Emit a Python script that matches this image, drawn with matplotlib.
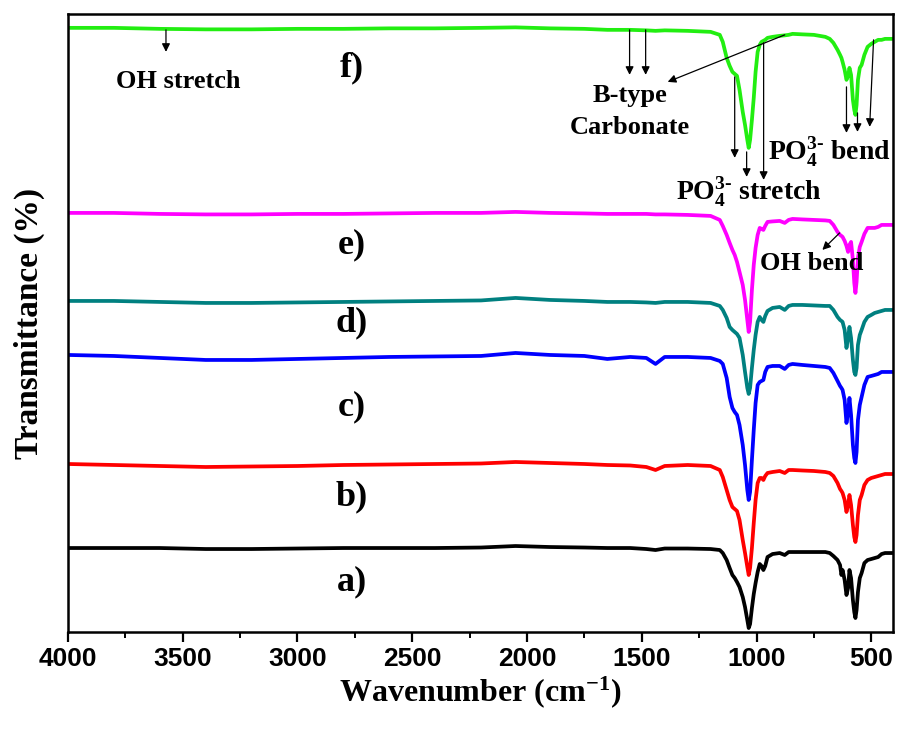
import numpy as np
import matplotlib
matplotlib.use("Agg")
import matplotlib.pyplot as plt

plt.rcParams["mathtext.fontset"] = "custom"
plt.rcParams["mathtext.rm"] = "Liberation Serif:bold"
plt.rcParams["mathtext.it"] = "Liberation Serif:bold"
plt.rcParams["mathtext.bf"] = "Liberation Serif:bold"
plt.rcParams["mathtext.default"] = "rm"

# FTIR spectra (wavenumber in cm^-1, stacked transmittance in arbitrary units)
wavenumber = [4000, 3800, 3600, 3400, 3200, 3000, 2800, 2600, 2400, 2200,
              2050, 1900, 1750, 1650, 1550, 1480, 1440, 1400, 1300, 1200,
              1160, 1147, 1130, 1117, 1105, 1095, 1085, 1074, 1060, 1050,
              1040, 1034, 1028, 1020, 1012, 1004, 995, 986, 978, 970,
              962, 952, 930, 899, 877, 860, 843, 800, 750, 700,
              681, 665,
              647, 636, 630, 625, 616, 608, 601, 595, 588, 580,
              574, 569, 564, 558, 550, 542, 530, 516, 500, 485,
              470, 455, 440, 420, 405]

trace_a = [84, 84, 84, 83, 83, 83.5, 84, 84, 84, 84.5,
           86, 85, 84.5, 84, 84, 83, 82, 83.5, 83.5, 83,
           82, 79, 72, 64, 57, 54, 50, 45, 35, 25,
           12, 4, 8, 24, 38, 49, 60, 68, 66, 62,
           66, 75, 78, 79, 77, 80, 80, 80, 80, 80,
           79, 76,
           72, 67, 57, 62, 52, 37, 44, 62, 54, 32,
           20, 14, 22, 40, 54, 59, 69, 72, 73, 74,
           75, 78, 79, 79, 79]

trace_b = [168, 167, 166, 165, 165.5, 166, 167, 167.5, 168, 168.5,
           170, 169, 168, 167, 166.5, 165, 162, 166, 167, 166,
           162, 155, 142, 132, 125, 123, 121, 112, 92, 79,
           65, 57, 64, 84, 109, 132, 149, 154, 154, 152,
           156, 159, 160, 161, 159, 162, 162, 161.5, 161, 160,
           159, 156,
           149, 143, 141, 139, 132, 120, 127, 137, 127, 107,
           95, 90, 97, 117, 132, 137, 147, 152, 154, 155,
           156, 157, 158, 158, 158]

trace_c = [277, 276, 274, 272, 272, 273, 274, 275, 275.5, 276,
           279, 277, 276, 273, 275, 274, 268, 275, 275, 274,
           271, 268, 254, 235, 224, 220, 217, 207, 187, 167,
           142, 132, 140, 172, 202, 229, 247, 250, 251, 252,
           260, 265, 266, 266, 263, 267, 268, 267, 266, 265,
           264, 259,
           251, 246, 244, 242, 232, 209, 220, 234, 217, 187,
           174, 169, 180, 212, 227, 235, 247, 255, 256, 257,
           258, 260, 260, 260, 260]

trace_d = [331, 331, 330, 329, 329, 329.5, 330, 330.5, 331, 331.5,
           334, 332, 331, 330, 330, 329.5, 329, 330, 330, 329,
           326, 322, 314, 305, 302, 300, 298, 294, 277, 260,
           244, 238, 244, 264, 282, 297, 310, 315, 312, 310,
           316, 321, 324, 325, 322, 326, 327, 327, 326.5, 326,
           326, 322,
           315, 312, 311, 310, 302, 284, 294, 305, 294, 272,
           260, 257, 264, 287, 297, 302, 310, 315, 317, 319,
           320, 321, 322, 322, 322]

trace_e = [419, 419, 418, 417.5, 417.5, 418, 418, 418.5, 419, 419,
           420, 419, 418.5, 418, 418, 418, 417.5, 417.5, 417, 416,
           412, 406, 397, 389, 382, 377, 370, 360, 347, 332,
           312, 300, 310, 342, 367, 384, 397, 404, 403, 402,
           406, 410, 410.5, 411, 409, 412, 413, 412.5, 412, 411.5,
           411, 407,
           400, 397, 396, 395, 391, 386, 380, 387, 390, 372,
           349, 339, 350, 374, 385, 390, 398, 404, 404, 404,
           405, 407, 407, 407, 407]

trace_f = [604, 604, 603, 602.5, 602.5, 603, 603, 603.5, 603.5, 604,
           604.5, 603.5, 603, 602, 602, 601.5, 601, 601.5, 601, 600,
           597, 590, 574, 566, 560, 558, 556, 542, 520, 507,
           492, 484, 492, 512, 534, 560, 580, 587, 590, 591,
           592, 594, 595, 596, 596.5, 597, 598, 597.5, 597, 595,
           593, 589,
           582, 577, 574, 570, 562, 552, 556, 564, 557, 532,
           522, 517, 527, 552, 564, 567, 577, 585, 588, 590,
           592, 592, 593, 593, 593]

traces = [trace_a, trace_b, trace_c, trace_d, trace_e, trace_f]
trace_labels = ["a)", "b)", "c)", "d)", "e)", "f)"]
trace_colors = ["#000000", "#ff0000", "#0000ff", "#008080", "#ff00ff", "#22ee11"]
label_heights = [50, 135, 225, 309, 387, 564]

fig = plt.figure(figsize=(8.99, 7.29), dpi=100)
ax = fig.add_axes([0.0756, 0.133, 0.9178, 0.848])

for y, c in zip(traces, trace_colors):
    ax.plot(wavenumber, y, color=c, lw=2.7, solid_joinstyle="round",
            solid_capstyle="round")

serif = "Liberation Serif"
for lab, h in zip(trace_labels, label_heights):
    ax.text(2763, h, lab, fontsize=26, fontweight="bold", family=serif,
            ha="center", va="center")

arrow = dict(arrowstyle="-|>", color="black", lw=0.9, mutation_scale=12,
             shrinkA=0, shrinkB=0)
ann = dict(fontsize=19, fontweight="bold", family=serif)

# OH stretching
ax.annotate("", xy=(3573, 580), xytext=(3573, 602), arrowprops=arrow)
ax.text(3521, 550, "OH stretch", ha="center", va="center", **ann)

# B-type carbonate
ax.annotate("", xy=(1553, 557), xytext=(1553, 602), arrowprops=arrow)
ax.annotate("", xy=(1483, 557), xytext=(1483, 602), arrowprops=arrow)
ax.annotate("", xy=(1387, 550), xytext=(877, 597), arrowprops=arrow)
ax.text(1553, 536, "B-type", ha="center", va="center", **ann)
ax.text(1553, 504, "Carbonate", ha="center", va="center", **ann)

# phosphate stretching
ax.annotate("", xy=(1095, 474), xytext=(1095, 555), arrowprops=arrow)
ax.annotate("", xy=(1043, 455), xytext=(1043, 480), arrowprops=arrow)
ax.annotate("", xy=(969, 452), xytext=(969, 589), arrowprops=arrow)
ax.text(1034, 440, r"PO$_4^{3\text{-}}$ stretch", ha="center", va="center",
        fontsize=20, fontweight="bold", family=serif)

# phosphate bending
ax.annotate("", xy=(608, 499), xytext=(608, 545), arrowprops=arrow)
ax.annotate("", xy=(560, 500), xytext=(560, 519), arrowprops=arrow)
ax.annotate("", xy=(507, 505), xytext=(490, 592), arrowprops=arrow)
ax.text(683, 480, r"PO$_4^{3\text{-}}$ bend", ha="center", va="center",
        fontsize=20, fontweight="bold", family=serif)

# OH bending
ax.annotate("", xy=(713, 382), xytext=(638, 399), arrowprops=arrow)
ax.text(760, 368, "OH bend", ha="center", va="center",
        fontsize=19, fontweight="bold", family=serif)

ax.set_xlim(4000, 405)
ax.set_ylim(0, 618)
ax.set_xticks([4000, 3500, 3000, 2500, 2000, 1500, 1000, 500])
ax.set_xticks(np.arange(3750, 400, -500), minor=True)
ax.set_yticks([])
ax.tick_params(axis="x", which="major", direction="out", length=7, width=1.6,
               labelsize=19, pad=4)
ax.tick_params(axis="x", which="minor", direction="out", length=4, width=1.4)
for lbl in ax.get_xticklabels():
    lbl.set_fontweight("bold")
    lbl.set_family("Liberation Sans")
for s in ax.spines.values():
    s.set_linewidth(1.8)

ax.set_xlabel(r"Wavenumber (cm$^{\mathbf{-1}}$)", fontsize=23, fontweight="bold",
              family=serif, labelpad=2)
ax.set_ylabel("Transmittance (%)", fontsize=24, fontweight="bold",
              family=serif)
ax.yaxis.set_label_coords(-0.028, 0.5)

fig.savefig("out.png", dpi=100)
